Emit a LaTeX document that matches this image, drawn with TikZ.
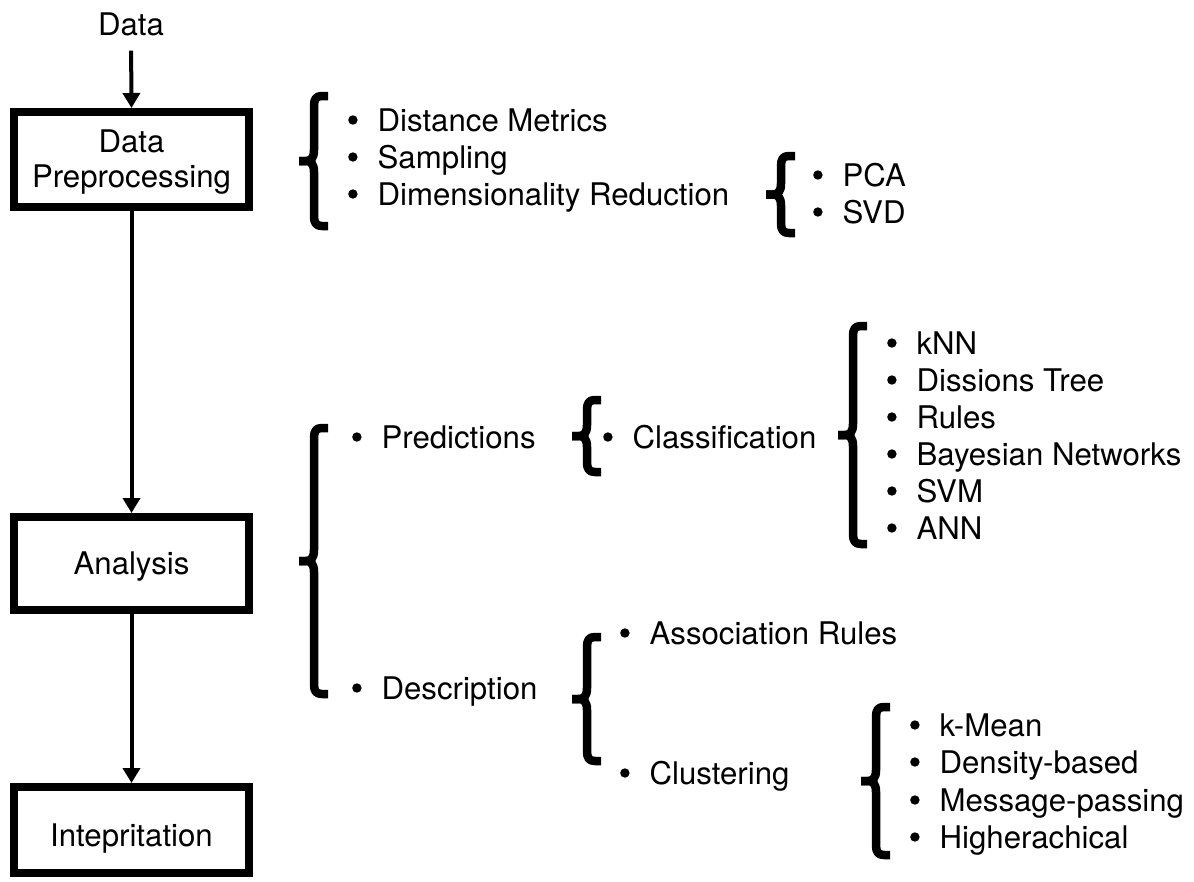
\documentclass[tikz,border=0pt]{standalone}
\usepackage{fontspec}
\setmainfont{TeX Gyre Heros}
\usetikzlibrary{arrows.meta}
\newcommand\bigfs{\fontsize{31.2}{35}\selectfont}
\newcommand\bul{\tikz[x=1pt,y=1pt,baseline=0pt]\fill[black] (5,11) circle (4.7);}
\newcommand\itm[1]{\bul\hspace{20pt}#1}
% curly brace: tip x, top y, bottom y
\newcommand\cbrace[3]{%
  \pgfmathsetmacro\bmid{(#2+#3)/2}%
  \draw[bracestroke] (#1+29,#2) -- (#1+23,#2) .. controls (#1+17,#2) and (#1+15,#2+3) .. (#1+15,#2+10)
     -- (#1+15,\bmid-11) .. controls (#1+15,\bmid-3) and (#1+12,\bmid) .. (#1+7,\bmid) -- (#1,\bmid);
  \draw[bracestroke] (#1+29,#3) -- (#1+23,#3) .. controls (#1+17,#3) and (#1+15,#3-3) .. (#1+15,#3-10)
     -- (#1+15,\bmid+11) .. controls (#1+15,\bmid+3) and (#1+12,\bmid) .. (#1+7,\bmid) -- (#1,\bmid);
}
\tikzset{
  box/.style={draw, line width=8pt, minimum width=235pt, inner sep=0pt, font=\bigfs, align=center},
  lbl/.style={anchor=base, inner sep=0pt, font=\bigfs},
  item/.style={anchor=base west, inner sep=0pt, font=\bigfs},
  arr/.style={line width=4pt, -{Triangle[length=15pt,width=17pt]}},
  bracestroke/.style={line width=8.5pt, line cap=butt, line join=round}
}
\begin{document}
\begin{tikzpicture}[x=1pt,y=-1pt]
\useasboundingbox[fill=white] (0,0) rectangle (1194,881);

% left column
\node[lbl] (data) at (131,35) {Data};
\node[box, minimum height=95pt, text height=63pt] (prep) at (131.5,159.5) {Data\\Preprocessing};
\node[box, minimum height=93pt, text depth=0pt] (ana) at (131.5,563.5) {Analysis};
\node[box, minimum height=86pt, text height=32pt, text depth=0pt] (inter) at (131.5,830) {Intepritation};

\draw[arr, shorten <=15pt] (data.south) -- (prep.north);
\draw[arr] (prep.south) -- (ana.north);
\draw[arr] (ana.south) -- (inter.north);

% preprocessing branch
\cbrace{299}{96}{226}
\node[item] (dm) at (348,131) {\itm{Distance Metrics}};
\node[item] (sa) at (348,168) {\itm{Sampling}};
\node[item] (dr) at (348,205) {\itm{Dimensionality Reduction}};
\cbrace{766}{156}{233}
\node[item] (pca) at (813,186) {\itm{PCA}};
\node[item] (svd) at (813,223) {\itm{SVD}};

% analysis branch
\cbrace{299}{428}{694}
\node[item] (pred) at (352,448) {\itm{Predictions}};
\node[item] (desc) at (352,699) {\itm{Description}};

\cbrace{572}{400}{472}
\node[item] (cls) at (603,448) {\itm{Classification}};

\cbrace{838}{326}{544}
\node[item] (knn) at (887,354) {\itm{kNN}};
\node[item] (dt) at (887,391) {\itm{Dissions Tree}};
\node[item] (ru) at (887,428) {\itm{Rules}};
\node[item] (bn) at (887,465) {\itm{Bayesian Networks}};
\node[item] (svm) at (887,502) {\itm{SVM}};
\node[item] (ann) at (887,539) {\itm{ANN}};

\cbrace{572}{637}{761}
\node[item] (ar) at (620,644) {\itm{Association Rules}};
\node[item] (clu) at (620,784) {\itm{Clustering}};

\cbrace{861}{707}{855}
\node[item] (km) at (910,736) {\itm{k-Mean}};
\node[item] (db) at (910,773) {\itm{Density-based}};
\node[item] (mp) at (910,811) {\itm{Message-passing}};
\node[item] (hi) at (910,848) {\itm{Higherachical}};
\end{tikzpicture}
\end{document}
